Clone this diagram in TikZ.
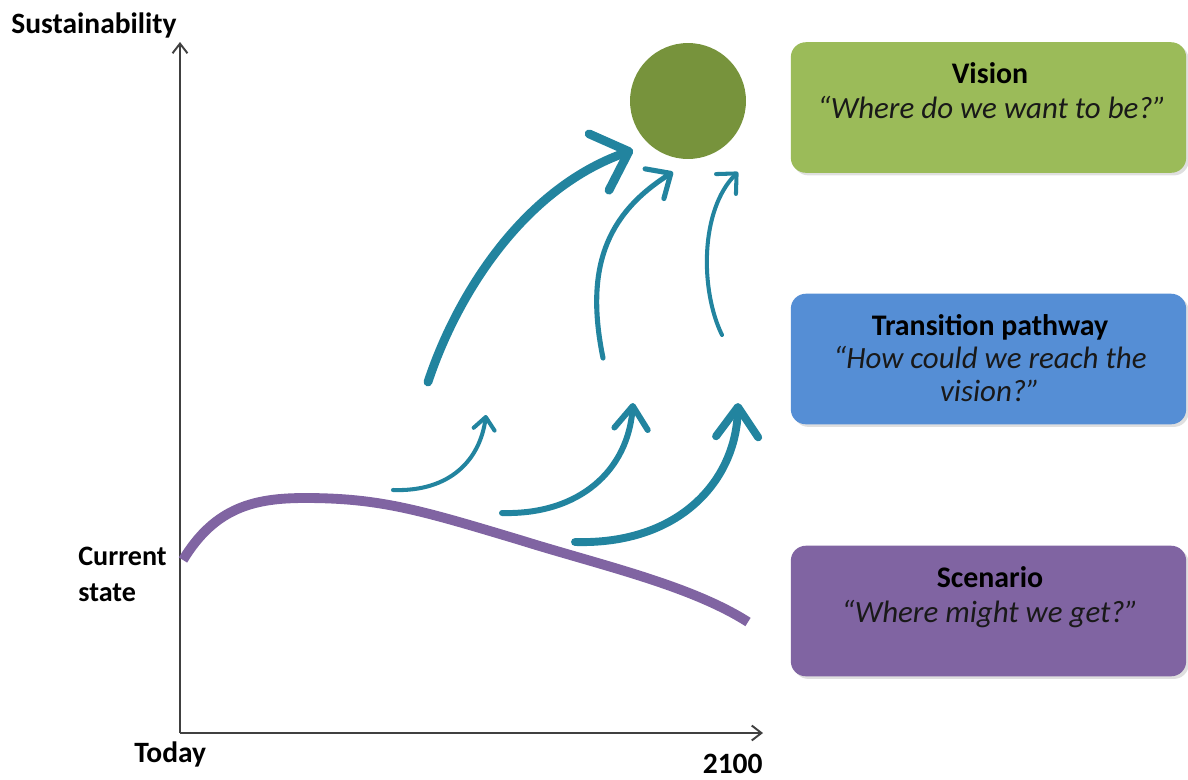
\documentclass[tikz,border=0pt]{standalone}
\usepackage{fontspec}
\setmainfont{Carlito}
\usetikzlibrary{arrows.meta,shadows}
\definecolor{arrteal}{HTML}{22849F}
\definecolor{curvepurple}{HTML}{8064A2}
\definecolor{visgreen}{HTML}{9BBB59}
\definecolor{tblue}{HTML}{558ED5}
\definecolor{scpurple}{HTML}{8064A2}
\definecolor{circgreen}{HTML}{77933C}
\definecolor{axisgray}{HTML}{404040}
\tikzset{
  lbl/.style={font=\fontsize{16.8}{19}\selectfont\bfseries, text=black, inner sep=0pt},
  boxtitle/.style={font=\fontsize{17}{19}\selectfont\bfseries, text=black, inner sep=0pt},
  quote/.style={font=\fontsize{17.6}{19}\selectfont\itshape, text=black!90, inner sep=0pt},
  infobox/.style={rectangle, rounded corners=8.5pt, minimum width=225pt, minimum height=74.3pt, inner sep=0pt,
     drop shadow={opacity=0.25, shadow xshift=1.5pt, shadow yshift=-1.5pt}},
  axisline/.style={draw=axisgray, line width=1.1pt, -{Straight Barb[length=5.5pt,width=8.5pt]}},
  pathway/.style={draw=arrteal, line cap=round, line join=round},
}
\begin{document}
\begin{tikzpicture}[x=0.02cm,y=-0.02cm]
\useasboundingbox (0,0) rectangle (1188,779);

% axes
\coordinate (origin) at (180,733);
\coordinate (ytop) at (180,42);
\coordinate (xend) at (763,733);
\draw[axisline] (origin) -- (ytop);
\draw[axisline] (origin) -- (xend);

\node[lbl, anchor=base west] (sust) at (11,33) {Sustainability};
\node[lbl, font=\fontsize{16}{19}\selectfont\bfseries, anchor=base west] (cur1) at (78,565) {Current};
\node[lbl, font=\fontsize{16}{19}\selectfont\bfseries, anchor=base west] (cur2) at (78,601) {state};
\node[lbl, anchor=base west] (today) at (134,762) {Today};
\node[lbl, anchor=base east] (year) at (763,773) {2100};

% scenario curve
\coordinate (cs) at (183,560);
\coordinate (ce) at (748,622);
\draw[curvepurple, line width=5.6pt] (cs) .. controls (215,507) and (255,498) .. (305,498)
   .. controls (380,498) and (420,510) .. (520,540)
   .. controls (600,565) and (690,585) .. (ce);

% vision circle
\node[circle, fill=circgreen, minimum size=66pt, inner sep=0pt] (goal) at (688,101) {};

% upper pathway arrows
\coordinate (a1s) at (428,382); \coordinate (a1e) at (633,150);
\coordinate (a2s) at (603,358); \coordinate (a2e) at (673,172);
\coordinate (a3s) at (722,335); \coordinate (a3e) at (738,172);
\draw[pathway, line width=5pt, -{Straight Barb[round,length=18pt,width=34pt]}]
  (a1s) .. controls (455,300) and (520,190) .. (a1e);
\draw[pathway, line width=2.9pt, -{Straight Barb[round,length=11pt,width=20pt]}]
  (a2s) .. controls (585,270) and (605,215) .. (a2e);
\draw[pathway, line width=2.3pt, -{Straight Barb[round,length=8.5pt,width=16pt]}]
  (a3s) .. controls (700,290) and (700,210) .. (a3e);

% lower pathway arrows
\coordinate (b1s) at (393,490); \coordinate (b1e) at (486,415);
\coordinate (b2s) at (502,513); \coordinate (b2e) at (633,403);
\coordinate (b3s) at (575,542); \coordinate (b3e) at (738,403);
\draw[pathway, line width=2.3pt, -{Straight Barb[round,length=7pt,width=12pt]}]
  (b1s) .. controls (450,492) and (480,460) .. (b1e);
\draw[pathway, line width=3.4pt, -{Straight Barb[round,length=13pt,width=19pt]}]
  (b2s) .. controls (580,515) and (628,470) .. (b2e);
\draw[pathway, line width=4.5pt, -{Straight Barb[round,length=17pt,width=24pt]}]
  (b3s) .. controls (680,545) and (736,480) .. (b3e);

% boxes
\node[infobox, fill=visgreen] (visbox) at (988.5,107.5) {};
\node[boxtitle, anchor=base] (vist) at (990,83) {Vision};
\node[quote, anchor=base] (visq) at (992,118) {“Where do we want to be?”};

\node[infobox, fill=tblue] (trbox) at (988.5,359) {};
\node[boxtitle, anchor=base] (trt) at (990,335) {Transition pathway};
\node[quote, anchor=base] (trq1) at (990,368) {“How could we reach the};
\node[quote, anchor=base] (trq2) at (990,401) {vision?”};

\node[infobox, fill=scpurple] (scbox) at (988.5,611) {};
\node[boxtitle, anchor=base] (sct) at (990,587) {Scenario};
\node[quote, anchor=base] (scq) at (990,622) {“Where might we get?”};
\end{tikzpicture}
\end{document}
